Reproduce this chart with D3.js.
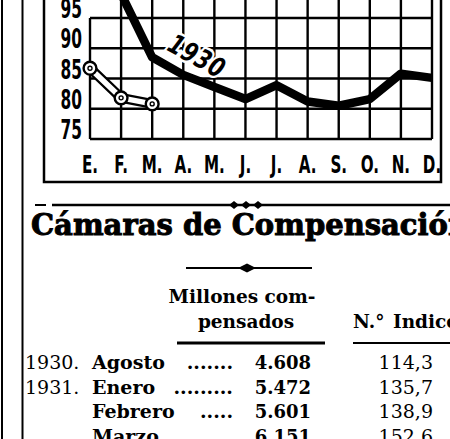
<!DOCTYPE html>
<html>
<head>
<meta charset="utf-8">
<script src="https://cdn.jsdelivr.net/npm/d3@7"></script>
<style>
body{margin:0;background:#fff;}
svg{display:block;}
</style>
</head>
<body>
<script>
// valores (número índice mensual)
const meses=["E.","F.","M.","A.","M.","J.","J.","A.","S.","O.","N.","D."];
const yTicks=[75,80,85,90,95];
const serie1930=[103,99,88.5,85.6,83.6,81.6,83.9,81.2,80.5,81.6,85.8,85.1];
const serie1931=[86.7,81.8,80.8];

// tabla
const anos=["1930.","1931.","",""];
const filas=["Agosto","Enero","Febrero","Marzo"];
const puntos=[".......",".........",".....","........."];
const millones=["4.608","5.472","5.601","6.151"];
const indice=["114,3","135,7","138,9","152,6"];

const W=450,H=439;
const sans="'DejaVu Sans Condensed','DejaVu Sans',sans-serif";
const serif="'DejaVu Serif',serif";
const svg=d3.select("body").append("svg")
  .attr("width",W).attr("height",H);
svg.append("rect").attr("width",W).attr("height",H).attr("fill","#fff");

const x=d3.scaleLinear().domain([0,meses.length-1]).range([90,432]);
const y=d3.scaleLinear().domain([75,100]).range([139,139-25*6.05]);

// filetes de columna y marco
const rules=svg.append("g").attr("stroke","#000").attr("fill","none");
rules.append("line").attr("x1",2).attr("x2",2).attr("y1",0).attr("y2",H).attr("stroke-width",2);
rules.append("line").attr("x1",22.5).attr("x2",22.5).attr("y1",0).attr("y2",H).attr("stroke-width",2);
rules.append("path").attr("d","M44,0V182H441V0").attr("stroke-width",2.5);

const plot=svg.append("g");
plot.append("clipPath").attr("id","clip").append("rect").attr("x",0).attr("y",0).attr("width",W).attr("height",182);

// rejilla
const grid=plot.append("g").attr("stroke","#000").attr("stroke-width",2.4);
grid.selectAll("line.h").data(yTicks).join("line").attr("class","h")
  .attr("x1",x(0)).attr("x2",x(11)).attr("y1",d=>y(d)).attr("y2",d=>y(d));
grid.selectAll("line.v").data(meses).join("line").attr("class","v")
  .attr("x1",(d,i)=>x(i)).attr("x2",(d,i)=>x(i))
  .attr("y1",(d,i)=>i==0?y(95):0).attr("y2",y(75));

// etiquetas de ejes (letra estrecha)
svg.append("g").selectAll("text").data(yTicks).join("text")
  .attr("transform",d=>`translate(82,${y(d)}) scale(0.66,1)`).attr("text-anchor","end")
  .attr("font-family",sans).attr("font-size",26).attr("font-weight","bold").text(d=>d);
svg.append("g").selectAll("text").data(meses).join("text")
  .attr("transform",(d,i)=>`translate(${x(i)},172.5) scale(0.66,1)`).attr("text-anchor","middle")
  .attr("font-family",sans).attr("font-size",25.5).attr("font-weight","bold").text(d=>d);

const line=d3.line().x((d,i)=>x(i)).y(d=>y(d));
const lines=plot.append("g").attr("clip-path","url(#clip)");
lines.append("path").datum(serie1930).attr("d",line)
  .attr("fill","none").attr("stroke","#000").attr("stroke-width",8.5).attr("stroke-linejoin","round");

// rótulo 1930
svg.append("text").attr("transform","translate(197,56) rotate(29) scale(0.85,1)")
  .attr("text-anchor","middle").attr("dy","0.35em")
  .attr("font-family",sans).attr("font-size",27).attr("font-weight","bold").attr("font-style","italic")
  .attr("letter-spacing",1)
  .attr("stroke","#fff").attr("stroke-width",5).attr("paint-order","stroke")
  .text("1930");

lines.append("path").datum(serie1931).attr("d",line)
  .attr("fill","none").attr("stroke","#000").attr("stroke-width",10).attr("stroke-linejoin","round");
lines.append("path").datum(serie1931).attr("d",line)
  .attr("fill","none").attr("stroke","#fff").attr("stroke-width",5.5).attr("stroke-linejoin","round");
const pts=lines.append("g").selectAll("g").data(serie1931).join("g")
  .attr("transform",(d,i)=>`translate(${x(i)},${y(d)})`);
pts.append("circle").attr("r",6.4).attr("fill","#fff").attr("stroke","#000").attr("stroke-width",2.4);
pts.append("circle").attr("r",2).attr("fill","none").attr("stroke","#000").attr("stroke-width",1.4);

// parte de texto
const orn=svg.append("g").attr("fill","#000");
orn.append("line").attr("x1",35).attr("x2",46).attr("y1",205).attr("y2",205).attr("stroke","#000").attr("stroke-width",2);
orn.append("line").attr("x1",52).attr("x2",450).attr("y1",205).attr("y2",205).attr("stroke","#000").attr("stroke-width",2.4);
orn.selectAll("path.d").data([234,246,258]).join("path").attr("class","d")
  .attr("d",d=>`M${d-5},205L${d},201L${d+5},205L${d},209Z`);
orn.append("line").attr("x1",186).attr("x2",312).attr("y1",268).attr("y2",268).attr("stroke","#000").attr("stroke-width",2.2);
orn.append("path").attr("d","M238,268L247,263.5L256,268L247,272.5Z");

svg.append("text").attr("x",31).attr("y",235)
  .attr("font-family",serif).attr("font-weight","bold").attr("font-size",30)
  .attr("stroke","#000").attr("stroke-width",1)
  .attr("textLength",438).attr("lengthAdjust","spacingAndGlyphs")
  .text("Cámaras de Compensación");

const head=svg.append("g").attr("font-family",serif).attr("font-weight","bold").attr("font-size",18.5);
head.append("text").attr("x",242).attr("y",303).attr("text-anchor","middle").text("Millones com-");
head.append("text").attr("x",246).attr("y",328).attr("text-anchor","middle").text("pensados");
head.append("text").attr("x",353).attr("y",328).text("N.°");
head.append("text").attr("x",393).attr("y",328).text("Indice");
svg.append("line").attr("x1",177).attr("x2",325).attr("y1",343).attr("y2",343).attr("stroke","#000").attr("stroke-width",2.8);
svg.append("line").attr("x1",353).attr("x2",450).attr("y1",343).attr("y2",343).attr("stroke","#000").attr("stroke-width",2.2);

const rowY=[369,394,418,443];
const body=svg.append("g").attr("font-family",serif).attr("font-size",19);
body.selectAll("text.a").data(anos).join("text").attr("class","a")
  .attr("x",25).attr("y",(d,i)=>rowY[i]).text(d=>d);
body.selectAll("text.m").data(filas).join("text").attr("class","m")
  .attr("x",92).attr("y",(d,i)=>rowY[i]).attr("font-weight","bold").text(d=>d);
body.selectAll("text.p").data(puntos).join("text").attr("class","p")
  .attr("x",233).attr("y",(d,i)=>rowY[i]).attr("text-anchor","end").attr("font-weight","bold")
  .attr("font-size",19).text(d=>d);
body.selectAll("text.n").data(millones).join("text").attr("class","n")
  .attr("x",311).attr("y",(d,i)=>rowY[i]).attr("text-anchor","end").attr("font-weight","bold").attr("font-size",18).text(d=>d);
body.selectAll("text.i").data(indice).join("text").attr("class","i")
  .attr("x",433).attr("y",(d,i)=>rowY[i]).attr("text-anchor","end").text(d=>d);
</script>
</body>
</html>
